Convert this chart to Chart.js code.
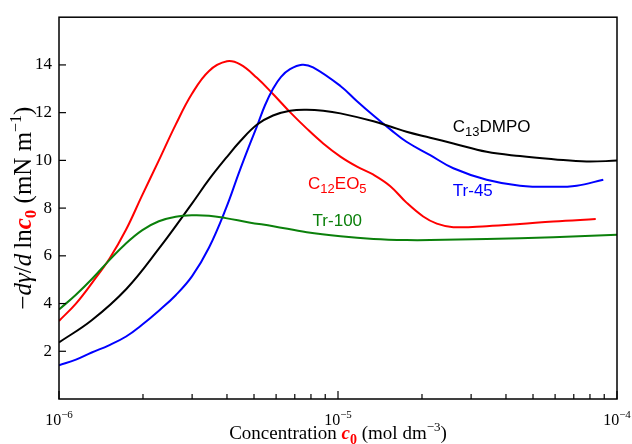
<!DOCTYPE html>
<html>
<head>
<meta charset="utf-8">
<script src="https://cdn.jsdelivr.net/npm/chart.js@4"></script>
<style>
  html, body { margin: 0; padding: 0; background: #fff; }
</style>
</head>
<body>
<canvas id="chart" width="632" height="444"></canvas>
<script>
// values (concentration in mol dm^-3, -dγ/dln c0 in mN m^-1)
const c13dmpoConc = [1.00e-6, 1.31e-6, 1.74e-6, 2.28e-6, 3.00e-6, 3.45e-6, 3.97e-6, 4.46e-6, 5.13e-6, 5.85e-6, 6.73e-6, 7.73e-6, 8.85e-6, 1.02e-5, 1.34e-5, 1.54e-5, 1.76e-5, 2.14e-5, 2.59e-5, 3.41e-5, 4.49e-5, 5.91e-5, 7.78e-5, 1.00e-4];
const c13dmpoValues = [2.37, 3.3, 4.6, 6.3, 8.2, 9.2, 10.1, 10.8, 11.5, 11.88, 12.08, 12.12, 12.08, 11.97, 11.64, 11.42, 11.2, 10.95, 10.71, 10.36, 10.18, 10.05, 9.95, 9.99];

const c12eo5Conc = [1.00e-6, 1.15e-6, 1.32e-6, 1.52e-6, 1.74e-6, 1.98e-6, 2.28e-6, 2.62e-6, 3.00e-6, 3.45e-6, 4.00e-6, 4.46e-6, 5.12e-6, 5.86e-6, 6.73e-6, 7.73e-6, 8.85e-6, 1.02e-5, 1.17e-5, 1.34e-5, 1.54e-5, 1.76e-5, 2.02e-5, 2.26e-5, 2.59e-5, 3.41e-5, 4.49e-5, 5.91e-5, 8.39e-5];
const c12eo5Values = [3.27, 4.0, 4.9, 5.9, 7.1, 8.5, 10.0, 11.5, 12.8, 13.75, 14.15, 14.02, 13.46, 12.77, 12.02, 11.33, 10.71, 10.16, 9.74, 9.40, 8.92, 8.23, 7.65, 7.35, 7.20, 7.24, 7.33, 7.44, 7.54];

const tr45Conc = [1.00e-6, 1.15e-6, 1.31e-6, 1.51e-6, 1.74e-6, 1.98e-6, 2.28e-6, 2.62e-6, 3.00e-6, 3.45e-6, 3.97e-6, 4.42e-6, 4.80e-6, 5.13e-6, 5.47e-6, 5.85e-6, 6.25e-6, 6.73e-6, 7.43e-6, 8.14e-6, 1.02e-5, 1.17e-5, 1.34e-5, 1.54e-5, 1.76e-5, 2.14e-5, 2.59e-5, 3.41e-5, 4.49e-5, 5.91e-5, 7.17e-5, 8.93e-5];
const tr45Values = [1.41, 1.65, 1.95, 2.25, 2.62, 3.1, 3.7, 4.35, 5.15, 6.35, 8.0, 9.5, 10.6, 11.45, 12.3, 13.0, 13.5, 13.82, 14.01, 13.9, 13.12, 12.48, 11.88, 11.30, 10.78, 10.22, 9.67, 9.19, 8.94, 8.89, 8.94, 9.19];

const tr100Conc = [1.00e-6, 1.15e-6, 1.32e-6, 1.51e-6, 1.73e-6, 1.99e-6, 2.28e-6, 2.62e-6, 3.01e-6, 3.45e-6, 3.96e-6, 4.80e-6, 5.86e-6, 7.73e-6, 1.02e-5, 1.34e-5, 1.76e-5, 2.14e-5, 3.41e-5, 5.91e-5, 1.00e-4];
const tr100Values = [3.75, 4.37, 5.06, 5.80, 6.50, 7.08, 7.45, 7.64, 7.70, 7.68, 7.58, 7.40, 7.24, 6.99, 6.82, 6.71, 6.66, 6.66, 6.71, 6.78, 6.88];

const yTickValues = [2, 4, 6, 8, 10, 12, 14];
const xDecades = [-6, -5, -4];

const RED = '#ff0000', BLUE = '#0000ff', GREEN = '#0b800b', BLACK = '#000000';
const SERIF = '"Liberation Serif", "Times New Roman", serif';
const SANS = '"Liberation Sans", Arial, sans-serif';

function toPoints(conc, vals) {
  return conc.map((c, i) => ({ x: c, y: vals[i] }));
}

// draw a run of text pieces with their own font / colour / vertical shift
function drawRich(ctx, parts, x, y, align) {
  let total = 0;
  parts.forEach(p => {
    ctx.font = p.font;
    p.w = ctx.measureText(p.text).width;
    total += p.w;
  });
  let cx = align === 'center' ? x - total / 2 : x;
  ctx.textAlign = 'left';
  ctx.textBaseline = 'alphabetic';
  parts.forEach(p => {
    ctx.font = p.font;
    ctx.fillStyle = p.color || BLACK;
    ctx.fillText(p.text, cx, y + (p.dy || 0));
    cx += p.w;
  });
}

function line(ctx, x1, y1, x2, y2) {
  ctx.beginPath();
  ctx.moveTo(x1, y1);
  ctx.lineTo(x2, y2);
  ctx.stroke();
}

const decorPlugin = {
  id: 'decor',
  afterDraw(chart) {
    const { ctx, chartArea: a, scales: { x, y } } = chart;
    ctx.save();
    ctx.strokeStyle = BLACK;
    ctx.lineWidth = 1.5;
    ctx.strokeRect(a.left, a.top, a.right - a.left, a.bottom - a.top);

    // inward ticks
    ctx.lineWidth = 1.2;
    yTickValues.forEach(v => {
      const py = y.getPixelForValue(v);
      line(ctx, a.left, py, a.left + 7, py);
    });
    xDecades.forEach(d => {
      for (let m = 1; m <= 9; m++) {
        if (d === -4 && m > 1) break;
        const px = x.getPixelForValue(m * Math.pow(10, d));
        line(ctx, px, a.bottom, px, a.bottom - (m === 1 ? 8 : 5));
      }
    });

    // x tick labels 10^n
    xDecades.forEach(d => {
      const px = x.getPixelForValue(Math.pow(10, d));
      drawRich(ctx, [
        { text: '10', font: '16px ' + SERIF },
        { text: '\u2212' + (-d), font: '11px ' + SERIF, dy: -7 }
      ], px, 425, 'center');
    });

    // x title
    drawRich(ctx, [
      { text: 'Concentration ', font: '19px ' + SERIF },
      { text: 'c', font: 'italic bold 19px ' + SERIF, color: RED },
      { text: '0', font: 'bold 14px ' + SERIF, color: RED, dy: 5 },
      { text: ' (mol dm', font: '19px ' + SERIF },
      { text: '\u22123', font: '13px ' + SERIF, dy: -8 },
      { text: ')', font: '19px ' + SERIF }
    ], (a.left + a.right) / 2, 439, 'center');

    // y title (rotated)
    ctx.save();
    ctx.translate(31, (a.top + a.bottom) / 2);
    ctx.rotate(-Math.PI / 2);
    drawRich(ctx, [
      { text: '\u2212', font: '25px ' + SERIF },
      { text: 'd\u03b3', font: 'italic 25px ' + SERIF },
      { text: '/', font: '25px ' + SERIF },
      { text: 'd', font: 'italic 25px ' + SERIF },
      { text: '\u2009ln', font: '25px ' + SERIF },
      { text: 'c', font: 'italic bold 25px ' + SERIF, color: RED },
      { text: '0', font: 'bold 17px ' + SERIF, color: RED, dy: 5 },
      { text: ' (mN m', font: '25px ' + SERIF },
      { text: '\u22121', font: '16px ' + SERIF, dy: -10 },
      { text: ')', font: '25px ' + SERIF }
    ], 0, 0, 'center');
    ctx.restore();

    // curve labels
    const big = '17px ' + SANS, sub = '13px ' + SANS;
    drawRich(ctx, [
      { text: 'C', font: big }, { text: '13', font: sub, dy: 4 }, { text: 'DMPO', font: big }
    ], x.getPixelForValue(2.58e-5), y.getPixelForValue(11.2));
    drawRich(ctx, [
      { text: 'C', font: big, color: RED }, { text: '12', font: sub, color: RED, dy: 4 },
      { text: 'EO', font: big, color: RED }, { text: '5', font: sub, color: RED, dy: 4 }
    ], x.getPixelForValue(7.81e-6), y.getPixelForValue(8.78));
    drawRich(ctx, [{ text: 'Tr-45', font: big, color: BLUE }],
      x.getPixelForValue(2.58e-5), y.getPixelForValue(8.52));
    drawRich(ctx, [{ text: 'Tr-100', font: big, color: GREEN }],
      x.getPixelForValue(8.11e-6), y.getPixelForValue(7.24));
    ctx.restore();
  }
};

new Chart(document.getElementById('chart').getContext('2d'), {
  type: 'line',
  data: {
    datasets: [
      { label: 'Tr-100', data: toPoints(tr100Conc, tr100Values), borderColor: GREEN },
      { label: 'C13DMPO', data: toPoints(c13dmpoConc, c13dmpoValues), borderColor: BLACK },
      { label: 'Tr-45', data: toPoints(tr45Conc, tr45Values), borderColor: BLUE },
      { label: 'C12EO5', data: toPoints(c12eo5Conc, c12eo5Values), borderColor: RED }
    ]
  },
  options: {
    responsive: false,
    animation: false,
    layout: { padding: { top: 12, right: 15, left: 0, bottom: 0 } },
    elements: {
      point: { radius: 0 },
      line: { borderWidth: 2, tension: 0.4, fill: false }
    },
    plugins: {
      legend: { display: false },
      tooltip: { enabled: false }
    },
    scales: {
      x: {
        type: 'logarithmic',
        min: 1e-6,
        max: 1e-4,
        grid: { display: false, drawTicks: false },
        border: { display: false },
        ticks: { display: false },
        afterFit: s => { s.height = 45; }
      },
      y: {
        type: 'linear',
        min: 0,
        max: 16,
        grid: { display: false, drawTicks: false },
        border: { display: false },
        afterBuildTicks: s => { s.ticks = yTickValues.map(v => ({ value: v })); },
        ticks: {
          padding: 7,
          color: BLACK,
          font: { family: SERIF, size: 17 }
        },
        afterFit: s => { s.width = 59; }
      }
    }
  },
  plugins: [decorPlugin]
});
</script>
</body>
</html>
